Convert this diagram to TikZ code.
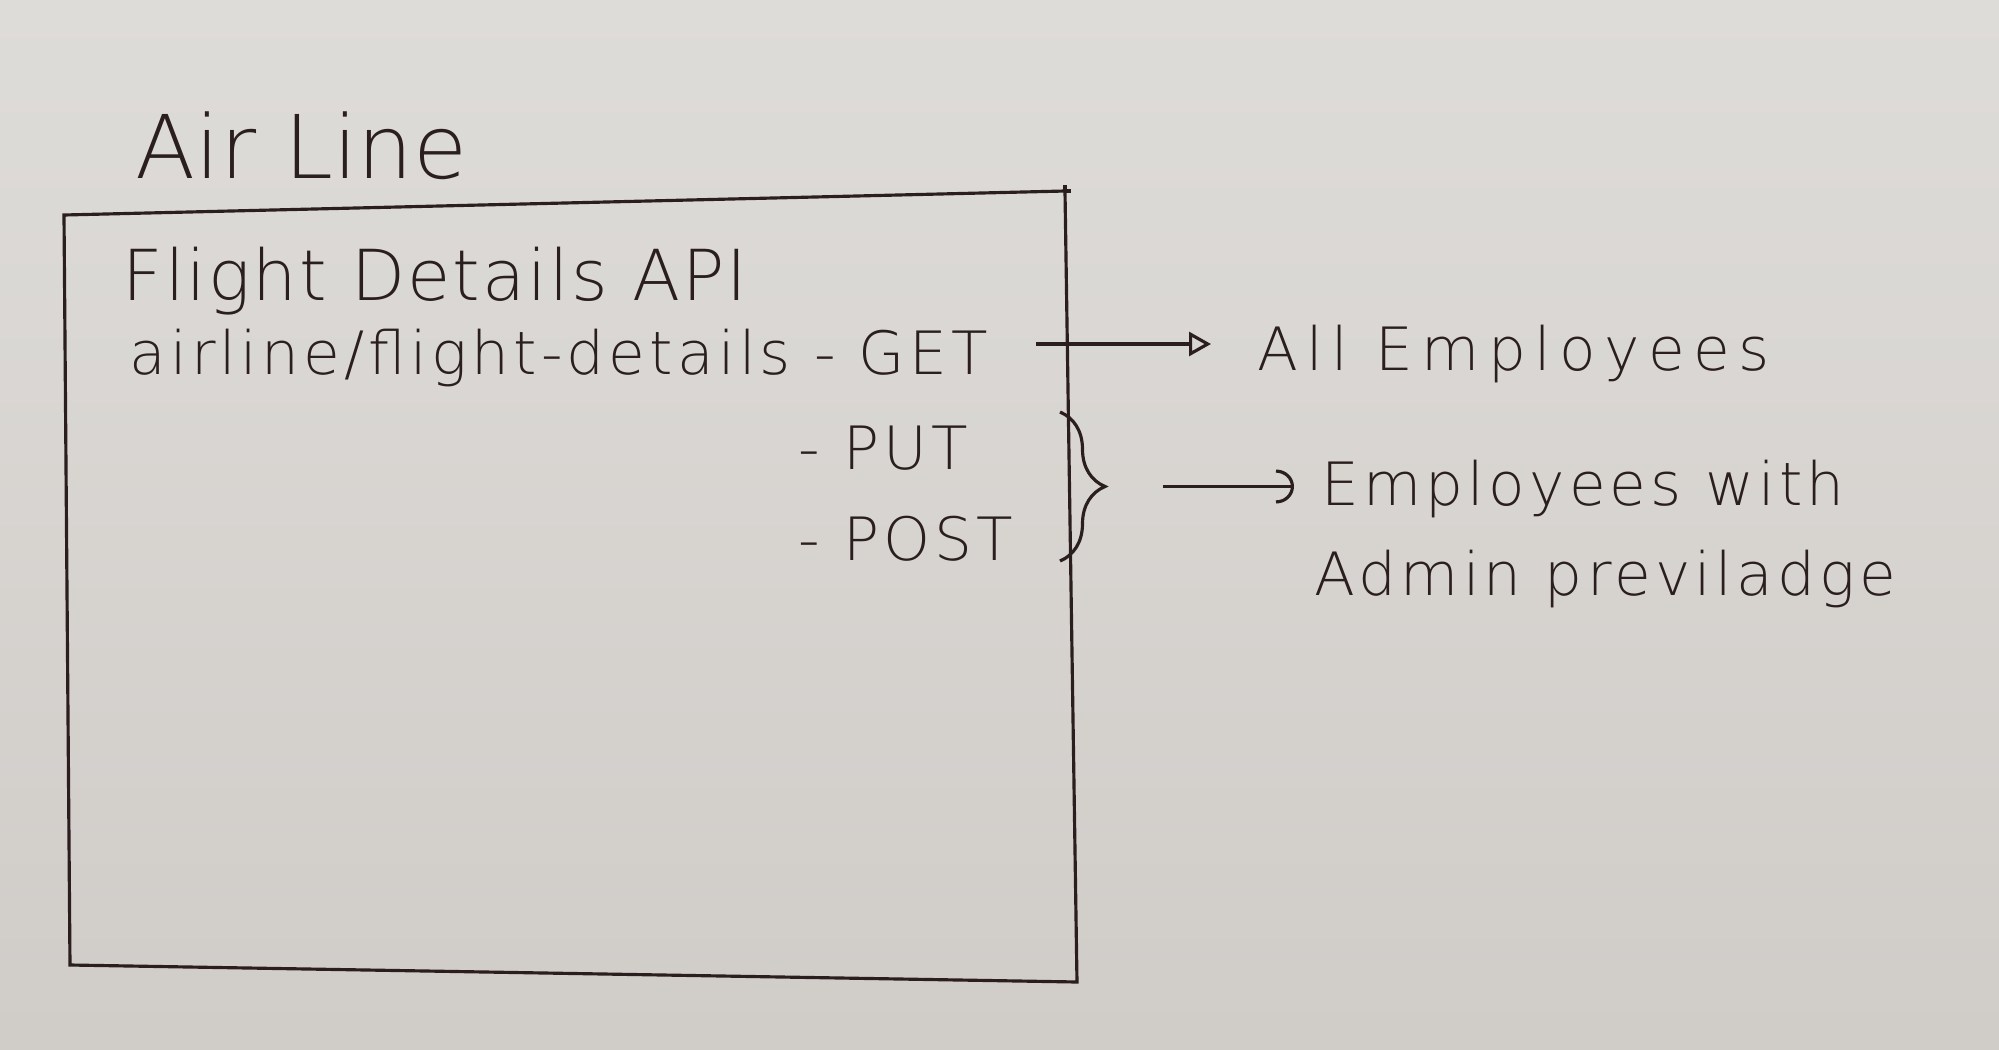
\documentclass[tikz,border=0pt]{standalone}
\usepackage{fontspec}
\setmainfont{DejaVu Sans}[UprightFont=* ExtraLight]
\usetikzlibrary{arrows.meta,decorations.pathreplacing}
\definecolor{paperhi}{RGB}{222,220,217}
\definecolor{paperlo}{RGB}{208,204,200}
\definecolor{inkc}{RGB}{42,30,30}

\begin{document}
\begin{tikzpicture}[line width=0.9pt,
  hand/.style={inner sep=0pt,text=inkc,anchor=base west},
  big/.style={font=\fontsize{25}{30}\selectfont},
  mid/.style={font=\fontsize{20}{24}\selectfont\addfontfeature{LetterSpace=3}},
  small/.style={font=\fontsize{17}{20}\selectfont\addfontfeature{LetterSpace=7}},
  wide/.style={font=\fontsize{17}{20}\selectfont\addfontfeature{LetterSpace=14}}]
\shade[top color=paperhi,bottom color=paperlo]
  (0,0) rectangle (19.99,-10.5);
\useasboundingbox (0,0) rectangle (19.99,-10.5);

\coordinate (tl) at (0.64,-2.15);
\coordinate (tr) at (10.65,-1.91);
\coordinate (br) at (10.77,-9.82);
\coordinate (bl) at (0.70,-9.65);
\draw[inkc] (tl) -- (tr) -- (br) -- (bl) -- cycle;
\draw[inkc] (tr) -- ++(0,0.06) (tr) -- ++(0.06,0);

\node[hand,big] (airline) at (1.34,-1.78) {Air Line};
\node[hand,mid] (api) at (1.21,-3.00) {Flight Details API};
\node[hand,small] (get) at (1.28,-3.74) {airline/flight-details - GET};
\node[hand,small] (put) at (7.97,-4.69) {- PUT};
\node[hand,small] (post) at (7.97,-5.60) {- POST};
\node[hand,wide] (allemp) at (12.56,-3.70) {All Employees};
\node[hand,small] (empwith) at (13.20,-5.05) {Employees with};
\node[hand,small] (admin) at (13.13,-5.95) {Admin previladge};

\draw[inkc,decorate,decoration={brace,amplitude=4.5mm}]
  (10.6,-4.12) -- (10.6,-5.61) coordinate[pos=0.5] (bmid);
\coordinate (btip) at ([xshift=4.5mm]bmid);
\coordinate (gs) at ([xshift=4.7mm,yshift=3mm]get.base east);

\draw[inkc,-{Triangle[open,length=2.2mm,width=2.4mm]}]
  (gs) -- ([xshift=-4.5mm]allemp.west |- gs);
\draw[inkc,-{Arc Barb[length=1.8mm,width=3.4mm]}]
  ([xshift=5.8mm]btip) -- ([xshift=-2.6mm]empwith.west |- btip);
\end{tikzpicture}
\end{document}
